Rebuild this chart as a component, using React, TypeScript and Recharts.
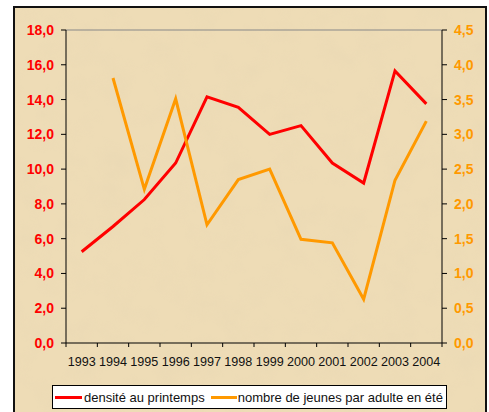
import React from "react";
import {
  Line,
  LineChart,
  ReferenceLine,
  XAxis,
  YAxis,
} from "recharts";

const years = [1993, 1994, 1995, 1996, 1997, 1998, 1999, 2000, 2001, 2002, 2003, 2004];
const densite = [5.25, 6.7, 8.25, 10.35, 14.15, 13.55, 12.0, 12.5, 10.35, 9.2, 15.65, 13.75];
const jeunes = [null, 3.81, 2.21, 3.51, 1.7, 2.35, 2.5, 1.49, 1.44, 0.63, 2.34, 3.19];

const leftTicks = [0, 2, 4, 6, 8, 10, 12, 14, 16, 18];
const rightTicks = [0, 0.5, 1, 1.5, 2, 2.5, 3, 3.5, 4, 4.5];
// tick marks sit between the years, labels on the years
const xTicks = [1992.5, ...years.flatMap((y) => [y, y + 0.5])];

const data = years.map((year, i) => ({
  year,
  densite: densite[i],
  jeunes: jeunes[i],
}));

const FONT = "Arial, 'Liberation Sans', sans-serif";
const RED = "#ff0000";
const ORANGE = "#ff9900";

const fmt = (v: number) => v.toFixed(1).replace(".", ",");

function YearTick(props: any) {
  const { x, y, payload } = props;
  const v = payload.value as number;
  if (v % 1 !== 0) {
    return <line x1={x} x2={x} y1={y} y2={y + 4} stroke="#000" />;
  }
  return (
    <text
      x={x}
      y={y + 14}
      dy="0.71em"
      textAnchor="middle"
      fill="#111"
      fontSize={12.6}
      fontFamily={FONT}
    >
      {v}
    </text>
  );
}

export default function App() {
  return (
    <div
      style={{
        position: "absolute",
        left: 0,
        top: 0,
        width: 489,
        height: 412,
        overflow: "hidden",
        background: "#fff",
        fontFamily: FONT,
      }}
    >
      {/* parchment frame */}
      <div
        style={{
          position: "absolute",
          left: 13,
          top: 6,
          width: 470,
          height: 430,
          border: "2px solid #111",
          background: "#eedcb6",
          overflow: "hidden",
        }}
      >
        <svg width={470} height={430} style={{ position: "absolute", left: 0, top: 0 }}>
          <filter id="paper">
            <feTurbulence type="fractalNoise" baseFrequency="0.035" numOctaves={4} seed={3} />
            <feColorMatrix
              type="matrix"
              values="0 0 0 0 0.78  0 0 0 0 0.66  0 0 0 0 0.45  0 0 0 -1.3 0.75"
            />
          </filter>
          <rect width={470} height={430} filter="url(#paper)" opacity={0.45} />
        </svg>
      </div>

      <div style={{ position: "absolute", left: 0, top: 0 }}>
        <LineChart
          width={489}
          height={412}
          data={data}
          margin={{ top: 30, right: 0, bottom: 0, left: 0 }}
        >
          <XAxis
            xAxisId="x"
            dataKey="year"
            type="number"
            domain={[1992.5, 2004.5]}
            ticks={xTicks}
            interval={0}
            tick={<YearTick />}
            tickSize={0}
            tickMargin={0}
            height={69}
            axisLine={{ stroke: "#000" }}
            tickLine={false}
          />
          <YAxis
            yAxisId="left"
            domain={[0, 18]}
            ticks={leftTicks}
            width={66}
            tickSize={5}
            tickMargin={7}
            tickFormatter={fmt}
            axisLine={{ stroke: "#000" }}
            tickLine={{ stroke: "#000" }}
            tick={{ fill: RED, fontSize: 14, fontWeight: "bold", fontFamily: FONT }}
          />
          <YAxis
            yAxisId="right"
            orientation="right"
            domain={[0, 4.5]}
            ticks={rightTicks}
            width={47}
            tickSize={5}
            tickMargin={7}
            tickFormatter={fmt}
            axisLine={{ stroke: "#000" }}
            tickLine={{ stroke: "#000" }}
            tick={{ fill: ORANGE, fontSize: 14, fontWeight: "bold", fontFamily: FONT }}
          />
          <ReferenceLine xAxisId="x" yAxisId="left" y={18} stroke="#888" />
          <Line
            xAxisId="x"
            yAxisId="left"
            dataKey="densite"
            type="linear"
            stroke={RED}
            strokeWidth={3}
            dot={false}
            isAnimationActive={false}
          />
          <Line
            xAxisId="x"
            yAxisId="right"
            dataKey="jeunes"
            type="linear"
            stroke={ORANGE}
            strokeWidth={3}
            dot={false}
            isAnimationActive={false}
          />
        </LineChart>
      </div>

      {/* legend */}
      <div
        style={{
          position: "absolute",
          left: 52,
          top: 385,
          width: 393,
          height: 22,
          border: "1px solid #000",
          background: "#fff",
          display: "flex",
          alignItems: "center",
          fontSize: 13,
          color: "#111",
          whiteSpace: "nowrap",
        }}
      >
        <span style={{ display: "inline-block", width: 27, height: 3, background: RED, marginLeft: 2, marginRight: 2 }} />
        <span>densité au printemps</span>
        <span style={{ display: "inline-block", width: 26, height: 3, background: ORANGE, marginLeft: 6, marginRight: 1 }} />
        <span>nombre de jeunes par adulte en été</span>
      </div>
    </div>
  );
}
